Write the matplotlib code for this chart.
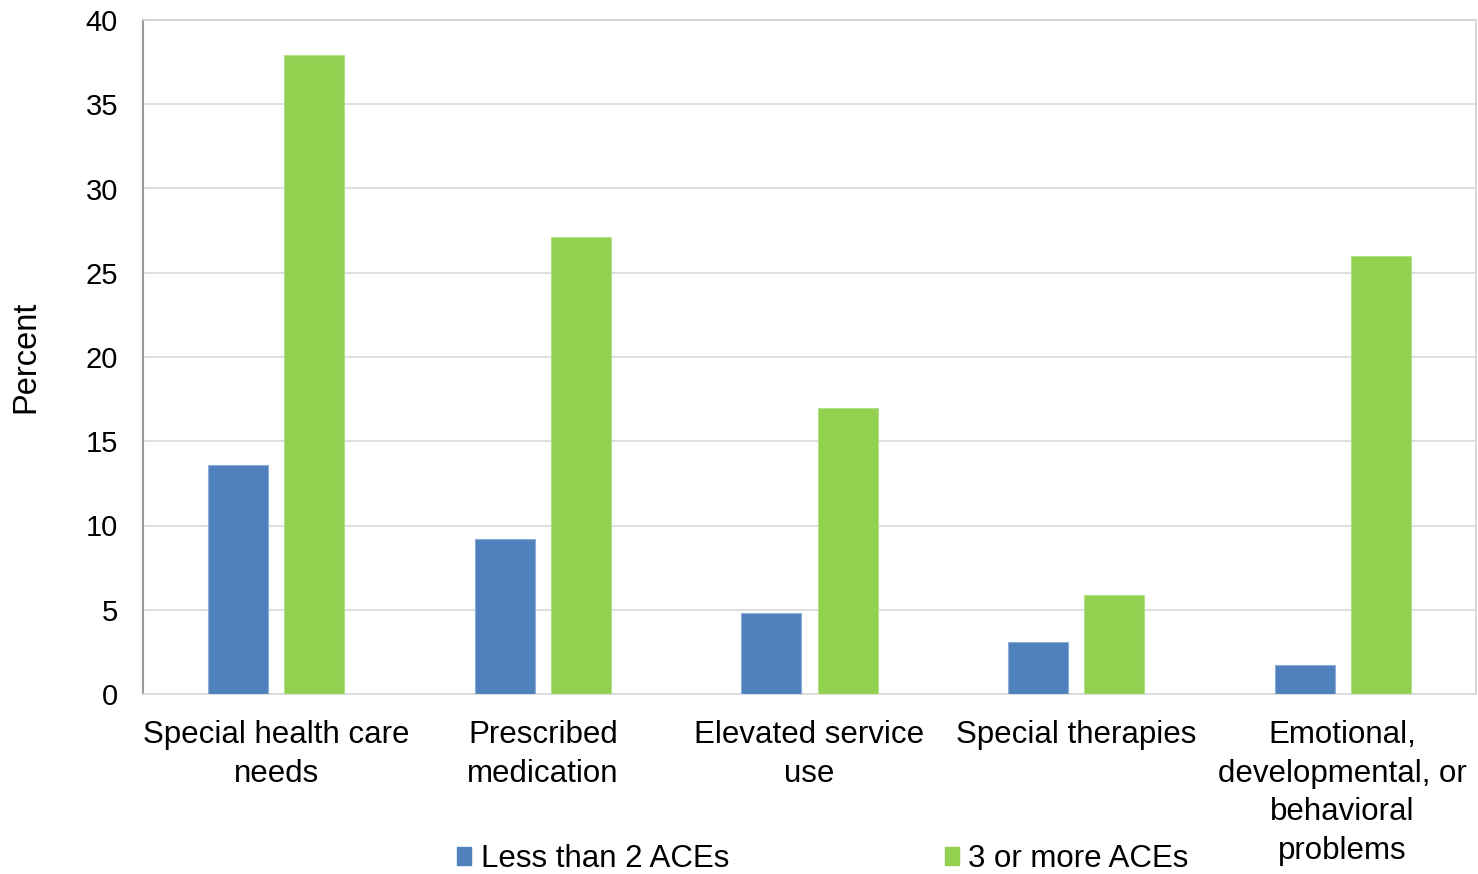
import matplotlib
matplotlib.use("Agg")
import matplotlib.pyplot as plt
import numpy as np
from matplotlib.patches import Patch

plt.rcParams['font.family'] = ['Liberation Sans', 'DejaVu Sans']

categories = ["Special health care\nneeds", "Prescribed\nmedication", "Elevated service\nuse",
              "Special therapies", "Emotional,\ndevelopmental, or\nbehavioral\nproblems"]
series_names = ["Less than 2 ACEs", "3 or more ACEs"]
less_than_2 = [13.6, 9.2, 4.8, 3.1, 1.7]
three_or_more = [37.9, 27.1, 17.0, 5.9, 26.0]
yticks = [0, 5, 10, 15, 20, 25, 30, 35, 40]

blue = "#4F81BD"
green = "#92D050"

fig = plt.figure(figsize=(14.78, 8.74), dpi=100)
ax = fig.add_axes([143/1478, 1-694/874, (1476-143)/1478, (694-20)/874])

x = np.arange(len(categories))
w = 0.225
off = 0.143
ax.bar(x - off, less_than_2, w, color=blue, edgecolor="#8FAAD6", linewidth=0.8, zorder=3)
ax.bar(x + off, three_or_more, w, color=green, edgecolor="#B5E08A", linewidth=0.8, zorder=3)

ax.set_xlim(-0.5, len(categories) - 0.5)
ax.set_ylim(0, 40)
ax.set_yticks(yticks)
ax.set_yticklabels([str(t) for t in yticks], fontsize=21)
ax.set_xticks(x)
ax.set_xticklabels(categories, fontsize=22.5, linespacing=1.37, va="top")
ax.tick_params(axis="both", length=0)
ax.tick_params(axis="y", pad=18)
ax.tick_params(axis="x", pad=19)
ax.yaxis.grid(True, color="#D9D9D9", linewidth=1.2, zorder=0)
ax.set_axisbelow(True)
for s in ["top", "right"]:
    ax.spines[s].set_color("#D0D0D0")
    ax.spines[s].set_linewidth(1.2)
ax.spines["left"].set_color("#999999")
ax.spines["left"].set_linewidth(1.5)
ax.spines["bottom"].set_color("#D9D9D9")
ax.spines["bottom"].set_linewidth(1.2)

ax.set_ylabel("Percent", fontsize=23.5, labelpad=32)

handles = [Patch(facecolor=blue, edgecolor=blue), Patch(facecolor=green, edgecolor=green)]
fig.legend(handles, series_names, loc="center", bbox_to_anchor=(823/1478, 1-859/874), ncol=2,
           frameon=False, fontsize=22.5, handlelength=0.45, handleheight=0.55, handletextpad=0.3,
           columnspacing=6.9, borderaxespad=0, borderpad=0)

fig.savefig("out.png", dpi=100)
